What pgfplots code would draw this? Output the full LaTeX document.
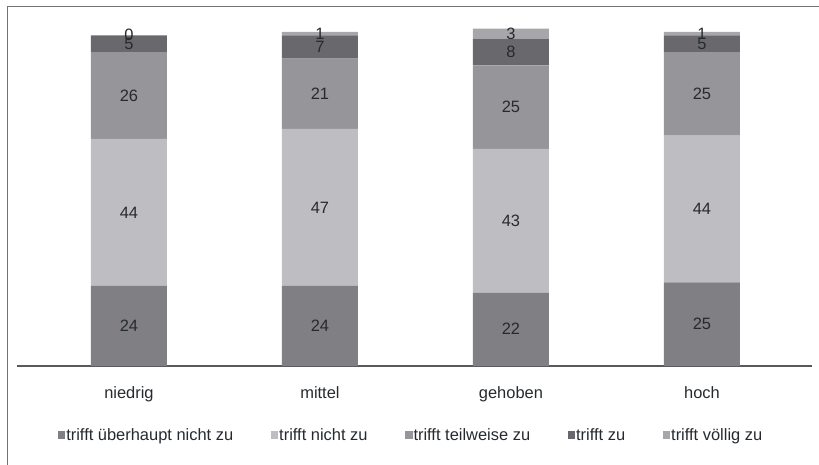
\documentclass[border=0pt]{standalone}
\usepackage{pgfplots}
\usepackage{pgfplotstable}
\pgfplotsset{compat=1.18}
\usepackage{fontspec}
\setmainfont{Liberation Sans}

\definecolor{cA}{HTML}{808084}
\definecolor{cB}{HTML}{BEBEC2}
\definecolor{cC}{HTML}{96969A}
\definecolor{cD}{HTML}{69696D}
\definecolor{cE}{HTML}{A7A7AB}
\definecolor{txt}{HTML}{262A2E}

% share per group (percent), bottom to top
\pgfplotstableread{
x a b c d e
0 24 44 26 5 0
1 24 47 21 7 1
2 22 43 25 8 3
3 25 44 25 5 1
}\data

\tikzset{lbl/.style={font=\fontsize{16.5}{18}\selectfont, color=txt}}
\pgfplotsset{
  seg/.style={
    fill=#1, draw=none,
  },
  frame/.style={
    at={(17bp,99bp)}, anchor=south west,
    scale only axis,
    width=795bp, height=334bp,
    xmin=-0.586, xmax=3.576,
    ymin=0, ymax=100,
    clip=false,
  },
}

\begin{document}
\begin{tikzpicture}
\path[use as bounding box] (0,0) rectangle (819bp,465bp);
% outer frame (top and left edges)
\draw[line width=1bp, color=black!55] (7bp,0bp) -- (7bp,458bp) -- (819bp,458bp);
\begin{axis}[
  frame,
  ybar stacked,
  bar width=76bp,
  axis x line*=bottom,
  axis y line=none,
  x axis line style={line width=2bp, color=black!65, -},
  xtick={0,1,2,3},
  xticklabels={niedrig,mittel,gehoben,hoch},
  major tick length=0pt,
  xticklabel style={anchor=base, yshift=-32bp, lbl},
  ytick=\empty,
  /pgf/number format/assume math mode=true,
  nodes near coords,
  every node near coord/.append style={anchor=center, lbl},
  legend columns=5,
  legend style={
    at={(0.495,-0.207)}, anchor=center,
    draw=none, fill=none,
    font=\fontsize{16.5}{18}\selectfont,
    text=txt,
    /tikz/every odd column/.append style={column sep=0bp},
    /tikz/every even column/.append style={column sep=36.5bp},
    /tikz/every node/.append style={inner xsep=1bp},
  },
  legend image code/.code={
    \fill[#1] (0bp,-3.5bp) rectangle (7.5bp,4bp);
  },
]
\addplot[seg=cA] table[x=x, y=a] {\data};
\addplot[seg=cB] table[x=x, y=b] {\data};
\addplot[seg=cC] table[x=x, y=c] {\data};
\addplot[seg=cD] table[x=x, y=d] {\data};
\addplot[seg=cE] table[x=x, y=e] {\data};
\legend{trifft überhaupt nicht zu, trifft nicht zu, trifft teilweise zu, trifft zu, trifft völlig zu}
\end{axis}
% label of the empty top segment (niedrig: 0) sits at the bar top
\begin{axis}[frame, hide axis]
\addplot[draw=none, nodes near coords, point meta=explicit symbolic,
  every node near coord/.append style={anchor=center, lbl}]
  coordinates {(0,99) [0]};
\end{axis}
\end{tikzpicture}
\end{document}
